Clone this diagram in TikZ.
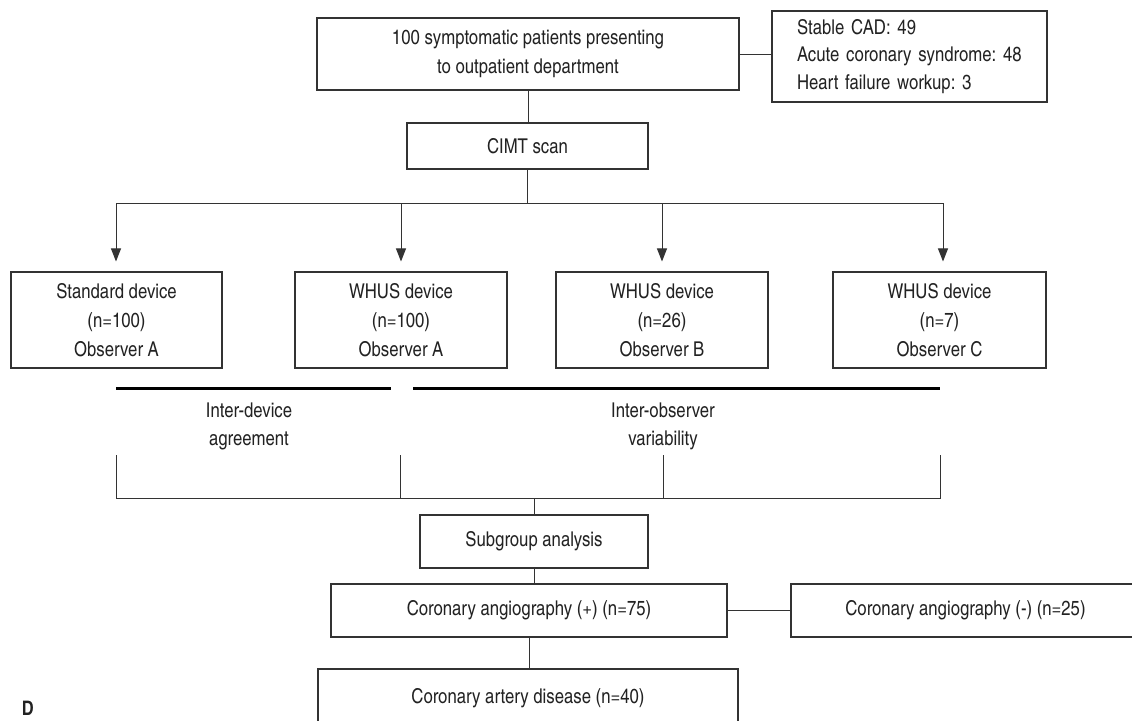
\documentclass[tikz,border=0pt]{standalone}
\usepackage{fontspec}
\setmainfont{texgyreheroscn}[Extension=.otf,UprightFont=*-regular,BoldFont=*-bold]
\usetikzlibrary{arrows.meta}
\frenchspacing
\definecolor{txt}{HTML}{222222}
\definecolor{ln}{HTML}{333333}
\tikzset{
  box/.style={draw=ln, line width=0.55pt, rectangle, inner sep=0pt, align=center, text=txt,
              font=\fontsize{10.2}{14.5}\selectfont},
  conn/.style={draw=ln, line width=0.5pt},
  arr/.style={conn, -{Triangle[length=6.5pt,width=5pt]}, shorten >=5pt},
  thick line/.style={draw=black, line width=1.5pt},
  lbl/.style={align=center, text=txt, inner sep=0pt, font=\fontsize{10.2}{14}\selectfont},
}
\begin{document}
\begin{tikzpicture}[x=0.5pt,y=-0.5pt]
\useasboundingbox (0,0) rectangle (1132,720);
\clip (0,0) rectangle (1132,720);

% nodes
\node[box, minimum width=422*0.5pt, minimum height=72*0.5pt] (top) at (528,54)
  {100 symptomatic patients presenting\\to outpatient department};
\node[box, minimum width=275*0.5pt, minimum height=91*0.5pt, text width=225*0.5pt,
      inner xsep=25*0.5pt, align=left, font=\fontsize{10.2}{13.75}\selectfont] (info) at (909.5,56.5)
  {Stable CAD: 49\\Acute coronary syndrome: 48\\Heart failure workup: 3};
\node[box, minimum width=241*0.5pt, minimum height=46*0.5pt] (cimt) at (527.5,146) {CIMT scan};

\node[box, minimum width=211*0.5pt, minimum height=96*0.5pt] (b1) at (116.5,320)
  {Standard device\\(n=100)\\Observer A};
\node[box, minimum width=212*0.5pt, minimum height=96*0.5pt] (b2) at (401,320)
  {WHUS device\\(n=100)\\Observer A};
\node[box, minimum width=212*0.5pt, minimum height=96*0.5pt] (b3) at (662,320)
  {WHUS device\\(n=26)\\Observer B};
\node[box, minimum width=213*0.5pt, minimum height=96*0.5pt] (b4) at (939.5,320)
  {WHUS device\\(n=7)\\Observer C};

\node[lbl] (l1) at (249,426) {Inter-device\\agreement};
\node[lbl] (l2) at (663,426) {Inter-observer\\variability};

\node[box, minimum width=228*0.5pt, minimum height=53*0.5pt] (sub) at (534,541.5) {Subgroup analysis};
\node[box, minimum width=396*0.5pt, minimum height=53*0.5pt] (angp) at (529,610.5)
  {Coronary angiography (+) (n=75)};
\node[box, minimum width=349*0.5pt, minimum height=53*0.5pt] (angm) at (965.5,610.5)
  {Coronary angiography (-) (n=25)};
\node[box, minimum width=420*0.5pt, minimum height=58*0.5pt] (cad) at (528,698)
  {Coronary artery disease (n=40)};

\node[anchor=north west, inner sep=0pt, text=txt, font=\fontsize{10}{10}\bfseries\selectfont] (D) at (21.5,701) {D};

% coordinates
\coordinate (split) at (527.5,203);
\coordinate (sl) at (116,203);
\coordinate (sr) at (943,203);
\coordinate (t1a) at (116,388); \coordinate (t1b) at (391,388);
\coordinate (t2a) at (413,388); \coordinate (t2b) at (940,388);
\coordinate (j1) at (116,455); \coordinate (j2) at (400,455);
\coordinate (j3) at (663,455); \coordinate (j4) at (940,455);
\coordinate (m1) at (116,498); \coordinate (m4) at (940,498);
\coordinate (mj) at (534,498);

% connectors
\draw[conn] (top.east) -- (top.east -| info.west);
\draw[conn] (top.south) -- (top.south |- cimt.north);
\draw[conn] (cimt.south) -- (split);
\draw[conn] (sl) -- (sr);
\draw[arr] (sl) -- (sl |- b1.north);
\draw[arr] (split -| b2.north) -- (b2.north);
\draw[arr] (split -| b3.north) -- (b3.north);
\draw[arr] (sr) -- (sr |- b4.north);

\draw[thick line] (t1a) -- (t1b);
\draw[thick line] (t2a) -- (t2b);

\draw[conn] (j1) -- (m1) -- (m4) -- (j4);
\draw[conn] (j2) -- (j2 |- m1);
\draw[conn] (j3) -- (j3 |- m1);
\draw[conn] (mj) -- (sub.north);
\draw[conn] (sub.south) -- (sub.south |- angp.north);
\draw[conn] (angp.east) -- (angm.west);
\draw[conn] (angp.south) -- (angp.south |- cad.north);
\end{tikzpicture}
\end{document}
